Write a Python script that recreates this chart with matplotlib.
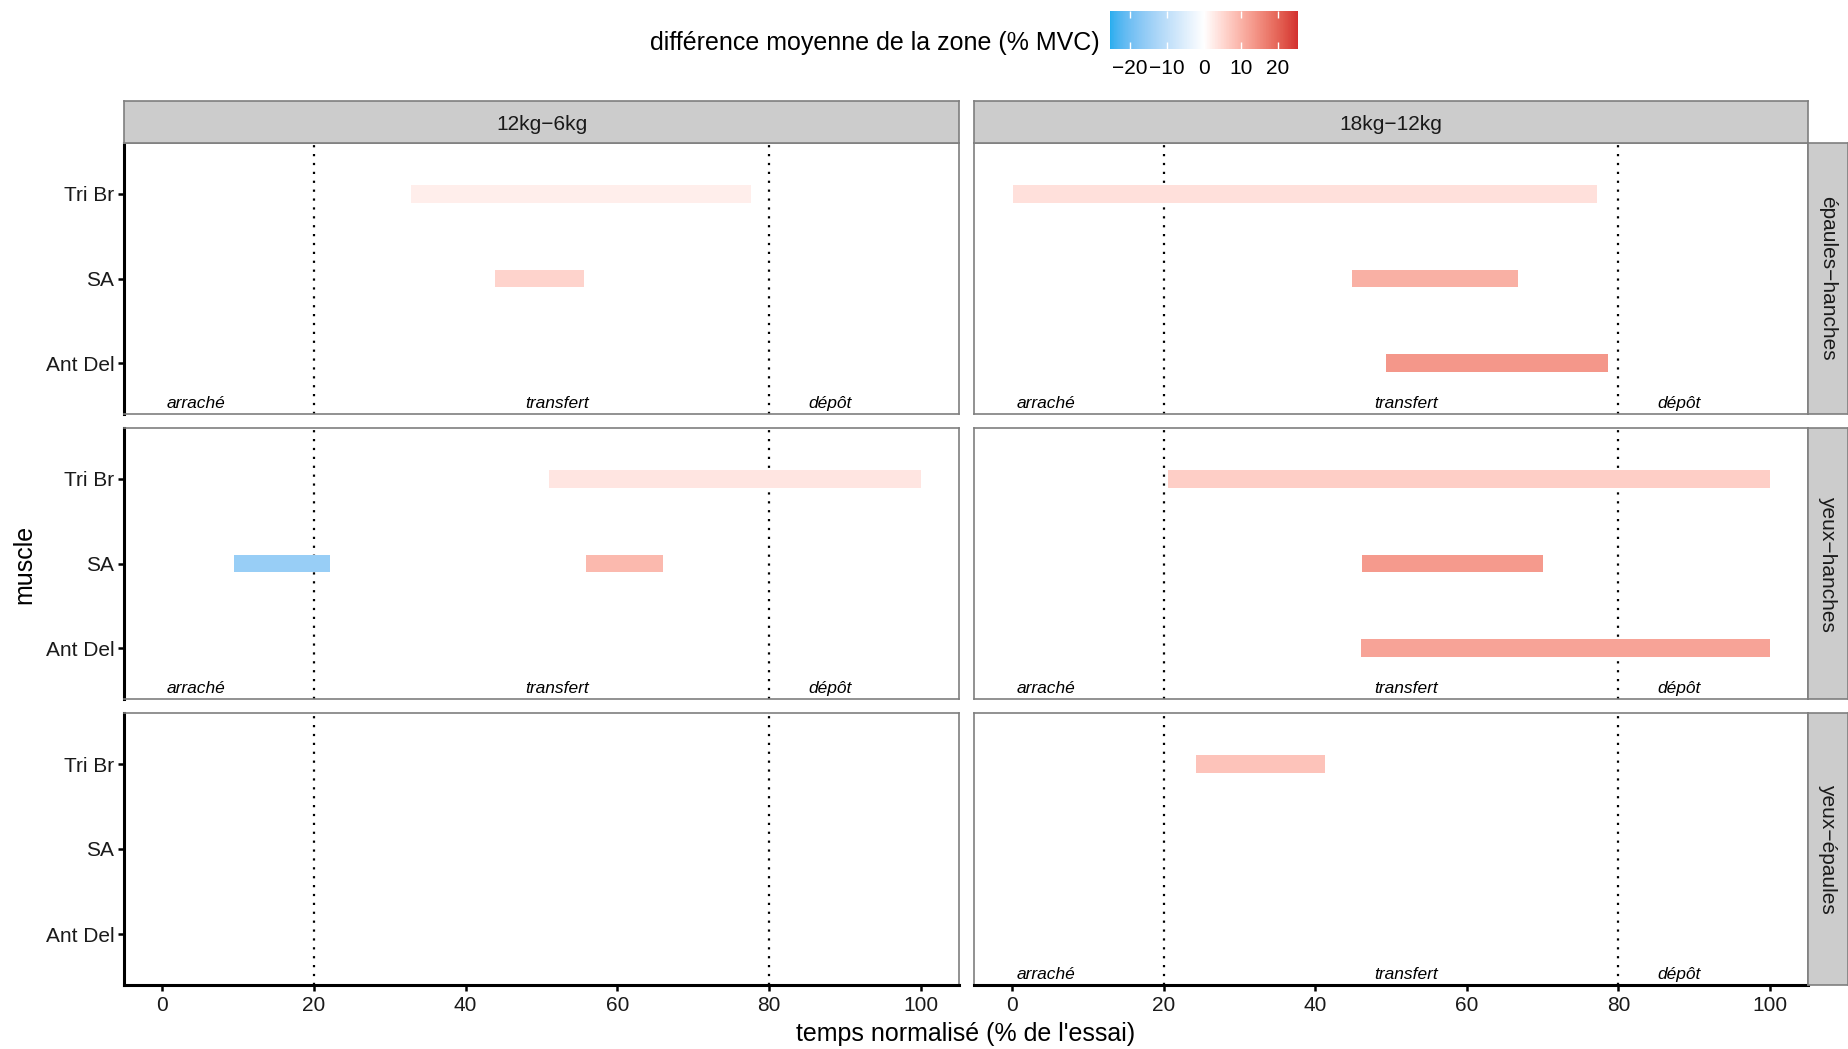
import numpy as np
import matplotlib
matplotlib.use("Agg")
import matplotlib.pyplot as plt
from matplotlib.colors import ListedColormap, TwoSlopeNorm, to_rgb
from matplotlib.cm import ScalarMappable

plt.rcParams['font.family'] = ['Liberation Sans', 'DejaVu Sans']

# categories
muscles = ["Ant Del", "SA", "Tri Br"]          # bottom -> top
loads = ["12kg−6kg", "18kg−12kg"]
postures = ["épaules−hanches", "yeux−hanches", "yeux−épaules"]

# zones with a significant difference (one entry per bar)
zone_posture = [0, 0, 0, 0, 0, 1, 1, 1, 1, 1, 1, 2]
zone_load = [0, 0, 1, 1, 1, 0, 0, 0, 1, 1, 1, 1]
zone_muscle = ["Tri Br", "SA", "Tri Br", "SA", "Ant Del",
               "Tri Br", "SA", "SA", "Tri Br", "SA", "Ant Del", "Tri Br"]
zone_start = [32.8, 43.9, 0.2, 44.9, 49.3, 51.0, 9.5, 55.9, 20.6, 46.2, 46.0, 24.3]
zone_end = [77.6, 55.6, 77.2, 66.8, 78.6, 100.0, 22.1, 66.0, 100.0, 70.0, 100.0, 41.3]
zone_diff = [2.1, 5.7, 4.0, 10.5, 13.7, 3.3, -15.1, 9.1, 6.4, 13.2, 11.9, 7.8]

# phases of the lift
phase_labels = ["arraché", "transfert", "dépôt"]
phase_x = [4.5, 52.0, 88.0]
phase_bounds = [20, 80]

x_ticks = [0, 20, 40, 60, 80, 100]
cbar_ticks = [-20, -10, 0, 10, 20]
diff_min, diff_max = -25.3, 25.5
low_col, mid_col, high_col = "#27AEEF", "#FFFFFF", "#D32F2F"


# --- Lab interpolation, as ggplot's gradient2 does ---
def srgb_to_lab(c):
    c = np.asarray(c, float)
    lin = np.where(c <= 0.04045, c / 12.92, ((c + 0.055) / 1.055) ** 2.4)
    m = np.array([[0.4124, 0.3576, 0.1805],
                  [0.2126, 0.7152, 0.0722],
                  [0.0193, 0.1192, 0.9505]])
    xyz = m @ lin / np.array([0.95047, 1.0, 1.08883])
    f = np.where(xyz > 0.008856, np.cbrt(xyz), 7.787 * xyz + 16 / 116)
    return np.array([116 * f[1] - 16, 500 * (f[0] - f[1]), 200 * (f[1] - f[2])])


def lab_to_srgb(lab):
    L, a, b = lab
    fy = (L + 16) / 116
    fx = fy + a / 500
    fz = fy - b / 200
    f = np.array([fx, fy, fz])
    xyz = np.where(f ** 3 > 0.008856, f ** 3, (f - 16 / 116) / 7.787)
    xyz = xyz * np.array([0.95047, 1.0, 1.08883])
    m = np.array([[3.2406, -1.5372, -0.4986],
                  [-0.9689, 1.8758, 0.0415],
                  [0.0557, -0.2040, 1.0570]])
    lin = m @ xyz
    c = np.where(lin <= 0.0031308, 12.92 * lin, 1.055 * np.clip(lin, 0, None) ** (1 / 2.4) - 0.055)
    return np.clip(c, 0, 1)


def lab_ramp(c0, c1, n):
    l0, l1 = srgb_to_lab(to_rgb(c0)), srgb_to_lab(to_rgb(c1))
    return [lab_to_srgb(l0 + (l1 - l0) * t) for t in np.linspace(0, 1, n)]


cmap = ListedColormap(lab_ramp(low_col, mid_col, 128) + lab_ramp(mid_col, high_col, 128)[1:])
norm = TwoSlopeNorm(vcenter=0, vmin=diff_min, vmax=diff_max)

W, H = 1848, 1049
fig = plt.figure(figsize=(W / 100, H / 100), dpi=100)


def rect(x0, y0, x1, y1):
    return [x0 / W, 1 - y1 / H, (x1 - x0) / W, (y1 - y0) / H]


col_x = [(124, 959), (974, 1808)]
row_y = [(143, 414), (428, 699), (713, 985)]
border = "#7F7F7F"

for r, (y0, y1) in enumerate(row_y):
    for c, (x0, x1) in enumerate(col_x):
        ax = fig.add_axes(rect(x0, y0, x1, y1))
        ax.set_xlim(-5, 105)
        ax.set_ylim(0.4, 3.6)
        for b in phase_bounds:
            ax.axvline(b, color="black", linestyle=(0, (1, 3)), lw=1.6, zorder=1)
        has_bar = False
        for i in range(len(zone_diff)):
            if zone_posture[i] == r and zone_load[i] == c:
                has_bar = True
                y = muscles.index(zone_muscle[i]) + 1
                ax.barh(y, zone_end[i] - zone_start[i], left=zone_start[i], height=0.21,
                        color=cmap(norm(zone_diff[i])), zorder=2)
        if has_bar:
            for lab, px in zip(phase_labels, phase_x):
                ax.text(px, 0.52, lab, ha="center", va="center", fontsize=12.5,
                        style="italic", color="black")
        for s in ax.spines.values():
            s.set_color(border)
            s.set_linewidth(1.2)
        ax.set_yticks(range(1, len(muscles) + 1))
        ax.set_xticks(x_ticks)
        if c == 0:
            ax.spines["left"].set_color("black")
            ax.spines["left"].set_linewidth(2.2)
            ax.set_yticklabels(muscles, fontsize=15, color="#1A1A1A")
            ax.tick_params(axis="y", length=4, width=1.8, pad=3)
        else:
            ax.tick_params(axis="y", length=0, labelleft=False)
        if r == len(row_y) - 1:
            ax.spines["bottom"].set_color("black")
            ax.spines["bottom"].set_linewidth(2.2)
            ax.set_xticklabels([str(t) for t in x_ticks], fontsize=15, color="#1A1A1A")
            ax.tick_params(axis="x", length=4, width=1.8, pad=4)
        else:
            ax.tick_params(axis="x", length=0, labelbottom=False)

# top strips
for c, (x0, x1) in enumerate(col_x):
    sax = fig.add_axes(rect(x0, 101, x1, 143))
    sax.set_facecolor("#CCCCCC")
    sax.set_xticks([])
    sax.set_yticks([])
    for s in sax.spines.values():
        s.set_color(border)
        s.set_linewidth(1.2)
    sax.text(0.5, 0.45, loads[c], ha="center", va="center", fontsize=15,
             color="#1A1A1A", transform=sax.transAxes)

# right strips
for r, (y0, y1) in enumerate(row_y):
    sax = fig.add_axes(rect(1808, y0, 1848, y1))
    sax.set_facecolor("#CCCCCC")
    sax.set_xticks([])
    sax.set_yticks([])
    for s in sax.spines.values():
        s.set_color(border)
        s.set_linewidth(1.2)
    sax.text(0.5, 0.5, postures[r], ha="center", va="center", rotation=-90,
             fontsize=15, color="#1A1A1A", transform=sax.transAxes)

# axis titles
fig.text(966 / W, 1 - 1034 / H, "temps normalisé (% de l'essai)", ha="center",
         va="center", fontsize=18)
fig.text(24 / W, 1 - 564 / H, "muscle", ha="center", va="center", rotation=90,
         fontsize=18)

# colour bar legend
cax = fig.add_axes(rect(1110, 11, 1298, 49))
cb = fig.colorbar(ScalarMappable(norm=norm, cmap=cmap), cax=cax, orientation="horizontal")
cb.outline.set_visible(False)
cb.set_ticks(cbar_ticks)
cax.set_xlim(diff_min, diff_max)
cax.tick_params(axis="x", direction="in", length=5, width=1, colors="white",
                top=True, labelcolor="black", labelsize=15, pad=7)
fig.text(1100 / W, 1 - 43 / H, "différence moyenne de la zone (% MVC)", ha="right",
         va="center", fontsize=18)

fig.savefig("out.png", dpi=100)
